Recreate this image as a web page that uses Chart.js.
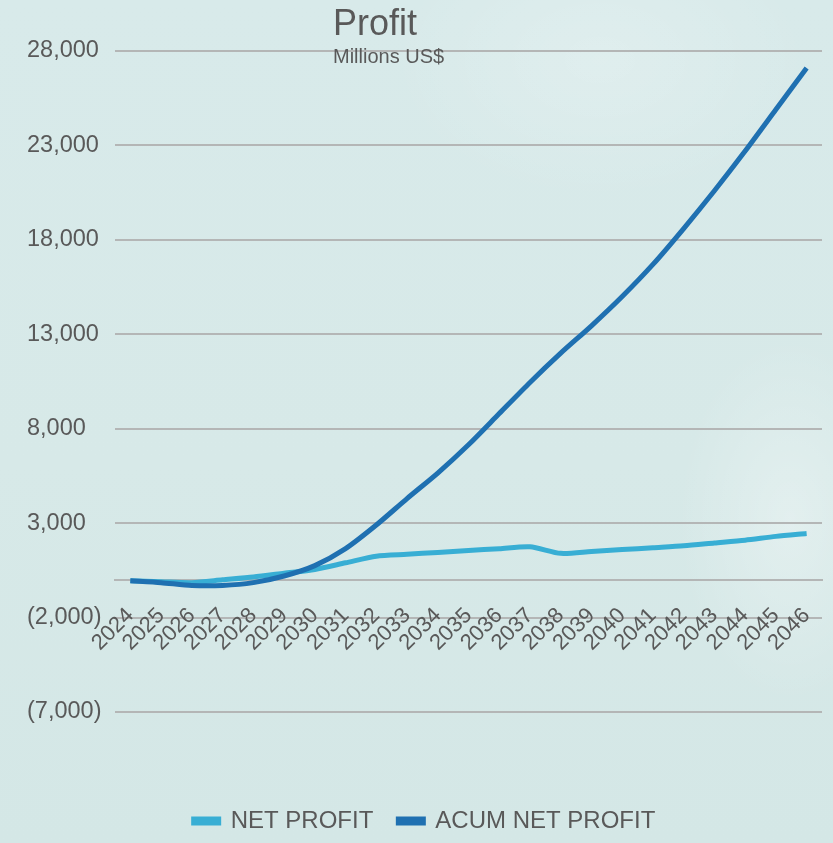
<!DOCTYPE html>
<html>
<head>
<meta charset="utf-8">
<title>Profit</title>
<script src="https://cdn.jsdelivr.net/npm/chart.js@4.4.1/dist/chart.umd.min.js"></script>
<style>
  html, body {
    margin: 0;
    padding: 0;
  }
  body {
    width: 833px;
    height: 843px;
    overflow: hidden;
    background:
      radial-gradient(ellipse 160px 260px at 790px 520px, rgba(255,255,255,0.3), rgba(255,255,255,0) 70%),
      radial-gradient(ellipse 300px 200px at 600px 60px, rgba(255,255,255,0.2), rgba(255,255,255,0) 70%),
      linear-gradient(180deg, #d8eaea 0%, #d7e9e8 55%, #d4e7e6 100%);
  }
  canvas {
    display: block;
  }
</style>
</head>
<body>
<canvas id="chart" width="833" height="843"></canvas>
<script>
var years = ["2024", "2025", "2026", "2027", "2028", "2029", "2030", "2031", "2032", "2033", "2034", "2035",
             "2036", "2037", "2038", "2039", "2040", "2041", "2042", "2043", "2044", "2045", "2046"];

var netProfit = [-50, -100, -150, 0, 150, 350, 550, 900, 1250, 1350, 1450, 1550,
                 1650, 1750, 1400, 1500, 1600, 1700, 1800, 1950, 2100, 2300, 2450];

var acumNetProfit = [-50, -150, -300, -300, -150, 200, 750, 1650, 2900, 4300, 5650, 7150,
                     8800, 10450, 12000, 13450, 15000, 16700, 18600, 20600, 22700, 24900, 27100];

var yMin = -7000;
var yMax = 28000;
var yStep = 5000;

var grey = '#595959';
var fontFamily = "'Liberation Sans', Arial, sans-serif";

// money format used by the y axis: negatives in brackets
function fmt(v) {
    var s = Math.abs(v).toLocaleString('en-US');
    return v < 0 ? '(' + s + ')' : s;
}

// title and subtitle sit over the top grid line, so draw them by hand
var titlePlugin = {
    id: 'titleText',
    afterDraw: function(chart) {
        var ctx = chart.ctx;
        ctx.save();
        ctx.fillStyle = grey;
        ctx.textAlign = 'left';
        ctx.textBaseline = 'alphabetic';
        ctx.font = '36px ' + fontFamily;
        ctx.fillText('Profit', 333, 35);
        ctx.font = '20px ' + fontFamily;
        ctx.fillText('Millions US$', 333, 63);
        ctx.restore();
    }
};

var ctx = document.getElementById('chart');
var chart = new Chart(ctx, {
    type: 'line',
    data: {
        labels: years,
        datasets: [{
            label: 'NET PROFIT',
            data: netProfit,
            borderColor: '#38aed4',
            backgroundColor: '#38aed4',
            borderWidth: 5,
            pointRadius: 0,
            tension: 0.25,
            order: 1
        }, {
            label: 'ACUM NET PROFIT',
            data: acumNetProfit,
            borderColor: '#1f70b1',
            backgroundColor: '#1f70b1',
            borderWidth: 5,
            pointRadius: 0,
            tension: 0.25,
            order: 0
        }]
    },
    options: {
        responsive: false,
        animation: false,
        layout: {
            padding: { top: 51, left: 27, right: 11, bottom: 0 }
        },
        scales: {
            x: {
                position: { y: 0 },
                offset: true,
                grid: { display: false, drawTicks: false },
                border: { display: true, color: '#b4b6b6', width: 2 },
                ticks: {
                    autoSkip: false,
                    minRotation: 45,
                    maxRotation: 45,
                    padding: 23,
                    color: grey,
                    font: { family: fontFamily, size: 22 }
                },
                afterFit: function(scale) {
                    // labels hang to the lower left only, no side room needed
                    scale.paddingLeft = 0;
                    scale.paddingRight = 0;
                }
            },
            // empty axis, only keeps the room under the plot free
            xSpace: {
                type: 'category',
                labels: years,
                position: 'bottom',
                grid: { display: false },
                border: { display: false },
                ticks: { display: false },
                afterFit: function(scale) {
                    scale.height = 72;
                }
            },
            y: {
                min: yMin,
                max: yMax,
                grid: { color: '#b4b6b6', lineWidth: 2, drawTicks: false },
                border: { display: false },
                ticks: {
                    stepSize: yStep,
                    crossAlign: 'far',
                    color: grey,
                    font: { family: fontFamily, size: 23.5 },
                    callback: function(v) { return fmt(v); }
                },
                afterFit: function(scale) {
                    scale.width = 88;
                }
            }
        },
        plugins: {
            legend: {
                position: 'bottom',
                labels: {
                    boxWidth: 25,
                    boxHeight: 4,
                    padding: 25,
                    color: grey,
                    font: { family: fontFamily, size: 24 },
                    sort: function(a, b) { return a.datasetIndex - b.datasetIndex; }
                }
            },
            tooltip: { enabled: false }
        }
    },
    plugins: [titlePlugin]
});
</script>
</body>
</html>
